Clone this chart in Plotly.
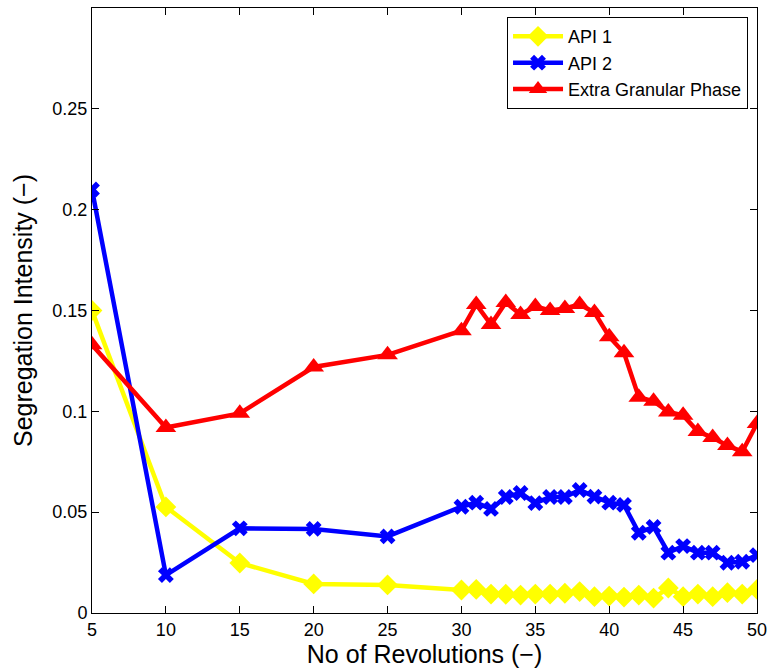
import plotly.graph_objects as go

revs = [5, 10, 15, 20, 25] + list(range(30, 51))

api1 = [0.150, 0.0526, 0.0248, 0.0144, 0.0139,
        0.0114, 0.0117, 0.0094, 0.0093, 0.0089, 0.0094, 0.0094, 0.0098, 0.0106, 0.0081,
        0.0084, 0.0079, 0.0089, 0.0074, 0.0124, 0.0081, 0.0094, 0.0081, 0.0101, 0.0094, 0.0117]

api2 = [0.210, 0.0188, 0.042, 0.0417, 0.038,
        0.0527, 0.0547, 0.0516, 0.0575, 0.0595, 0.0545, 0.0575, 0.0575, 0.061, 0.0577,
        0.0547, 0.0536, 0.0398, 0.0427, 0.0299, 0.0332, 0.0299, 0.0299, 0.0249, 0.0254, 0.0287]

egp = [0.133, 0.092, 0.099, 0.122, 0.128,
       0.140, 0.153, 0.143, 0.154, 0.148, 0.152, 0.150, 0.151, 0.153, 0.149,
       0.137, 0.129, 0.107, 0.105, 0.0997, 0.098, 0.090, 0.087, 0.083, 0.080, 0.094]

series = [
    ("API 1", api1, "#FFFF00", "diamond", 16),
    ("API 2", api2, "#0000FF", "x", 14),
    ("Extra Granular Phase", egp, "#FF0000", "triangle-up", 18),
]

fig = go.Figure()
for name, vals, col, sym, sz in series:
    fig.add_trace(go.Scatter(
        x=revs, y=vals, name=name, mode="lines+markers",
        line=dict(color=col, width=4.5),
        marker=dict(symbol=sym, size=sz, color=col, line=dict(width=0)),
    ))

font = "Liberation Sans, Arial, Helvetica, sans-serif"
fig.update_layout(
    width=767, height=670,
    margin=dict(l=92, r=10, t=8, b=57),
    paper_bgcolor="white", plot_bgcolor="white",
    font=dict(family=font, size=18, color="black"),
    showlegend=True,
    legend=dict(
        x=0.9865, y=0.985, xanchor="right", yanchor="top",
        bordercolor="black", borderwidth=1, bgcolor="white",
        font=dict(size=18), tracegroupgap=0, itemwidth=50,
    ),
    xaxis=dict(
        range=[5, 50], tickvals=[5, 10, 15, 20, 25, 30, 35, 40, 45, 50],
        showline=True, linecolor="black", linewidth=1, mirror="ticks",
        ticks="inside", ticklen=7, tickcolor="black", showgrid=False, zeroline=False,
        automargin=False, tickfont=dict(size=18), ticklabeloverflow="allow",
        title=dict(text="No of Revolutions (\u2212)", font=dict(size=25), standoff=2),
    ),
    yaxis=dict(
        range=[0, 0.3], tickvals=[0, 0.05, 0.1, 0.15, 0.2, 0.25, 0.3],
        ticktext=["0", "0.05", "0.1", "0.15", "0.2", "0.25", ""],
        showline=True, linecolor="black", linewidth=1, mirror="ticks",
        ticks="inside", ticklen=7, tickcolor="black", showgrid=False, zeroline=False,
        automargin=False, tickfont=dict(size=18), ticklabeloverflow="allow",
        title=dict(text="Segregation Intensity (\u2212)", font=dict(size=25), standoff=12),
    ),
)

fig.write_html("out.html")
